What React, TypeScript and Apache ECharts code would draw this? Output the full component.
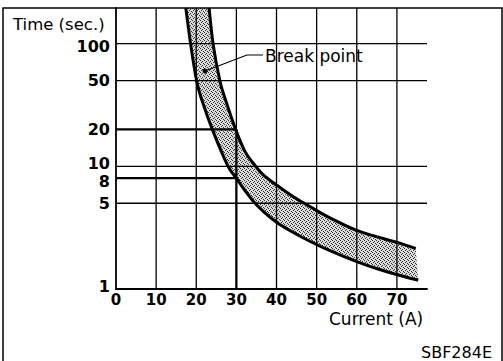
import React, { useEffect, useRef } from "react";
import * as echarts from "echarts";

// Axis ticks
const currentTicks = [0, 10, 20, 30, 40, 50, 60, 70];
const timeTicks = [1, 5, 8, 10, 20, 50, 100];

// Grid lines
const gridCurrents = [10, 20, 30, 40, 50, 60, 70];
const gridTimes = [5, 10, 50, 100];
const refTimes = [20, 8];
const refCurrent = 30;

// Lower (left) boundary curve of the band
const lowerCurrent = [17.4, 18.6, 20.1, 21.4, 24.0, 27.8, 30.0, 31.9, 34.2, 36.7, 40.0, 43.3, 48.3, 53.3, 60.0, 64.9, 70.3, 75.3];
const lowerTime = [195, 99, 49.4, 34.7, 20, 10.2, 8.0, 6.5, 5.2, 4.3, 3.5, 3.0, 2.45, 2.05, 1.67, 1.47, 1.3, 1.18];

// Upper (right) boundary curve of the band
const upperCurrent = [23.2, 24.2, 25.9, 27.3, 29.8, 32.1, 34.2, 36.7, 40.0, 44.2, 48.3, 53.3, 60.0, 64.9, 70.3, 74.7];
const upperTime = [195, 99, 49.4, 34.7, 20, 13.3, 10.6, 8.5, 7.05, 5.65, 4.7, 3.8, 3.0, 2.67, 2.38, 2.14];

const X_MAX = 77.5;
const Y_MIN = 1;
const Y_MAX = 195;
const FONT = "DejaVu Sans";

function catmull(pts: number[][], move: boolean): string {
  let d = (move ? "M" : "L") + pts[0][0] + "," + pts[0][1];
  for (let i = 0; i < pts.length - 1; i++) {
    const p0 = pts[i - 1] || pts[i];
    const p1 = pts[i];
    const p2 = pts[i + 1];
    const p3 = pts[i + 2] || p2;
    const c1x = p1[0] + (p2[0] - p0[0]) / 6;
    const c1y = p1[1] + (p2[1] - p0[1]) / 6;
    const c2x = p2[0] - (p3[0] - p1[0]) / 6;
    const c2y = p2[1] - (p3[1] - p1[1]) / 6;
    d += ` C${c1x},${c1y} ${c2x},${c2y} ${p2[0]},${p2[1]}`;
  }
  return d;
}

function makeStipple(): any {
  try {
    const c = document.createElement("canvas");
    c.width = 4;
    c.height = 4;
    const ctx = c.getContext("2d");
    if (!ctx) return "rgba(0,0,0,0.25)";
    ctx.clearRect(0, 0, 4, 4);
    ctx.fillStyle = "rgba(0,0,0,0.14)";
    ctx.fillRect(0, 0, 4, 4);
    ctx.fillStyle = "rgba(20,20,20,0.85)";
    [[0, 0], [2, 1], [1, 2], [3, 3]].forEach(([x, y]) => ctx.fillRect(x, y, 1, 1));
    return { image: c, repeat: "repeat" };
  } catch (e) {
    return "rgba(0,0,0,0.25)";
  }
}

export default function App() {
  const ref = useRef<HTMLDivElement>(null);
  useEffect(() => {
    if (!ref.current) return;
    const chart = echarts.init(ref.current, null, { renderer: "svg" });
    const stipple = makeStipple();
    const labelRich = {
      n: { fontFamily: FONT, fontSize: 16, fontWeight: "bold", color: "#000" },
      u: { fontFamily: FONT, fontSize: 16, fontWeight: "bold", color: "#000", padding: [0, 0, 6, 0] },
      d: { fontFamily: FONT, fontSize: 16, fontWeight: "bold", color: "#000", padding: [6, 0, 0, 0] },
    };
    const option: any = {
      animation: false,
      backgroundColor: "#fff",
      grid: { left: 116, top: 8, right: 76, bottom: 72, containLabel: false },
      xAxis: {
        type: "value",
        min: 0,
        max: X_MAX,
        axisLine: { show: true, onZero: false, lineStyle: { color: "#000", width: 1.8 } },
        axisTick: { show: false },
        splitLine: { show: false },
        axisLabel: {
          customValues: currentTicks,
          color: "#000",
          fontFamily: FONT,
          fontSize: 15,
          fontWeight: "bold",
          margin: 3,
        },
      },
      yAxis: {
        type: "log",
        logBase: 10,
        min: Y_MIN,
        max: Y_MAX,
        axisLine: { show: true, onZero: false, lineStyle: { color: "#000", width: 1.8 } },
        axisTick: { show: false },
        splitLine: { show: false },
        minorSplitLine: { show: false },
        axisLabel: {
          customValues: timeTicks,
          margin: 6,
          formatter: (v: number) => {
            if (v === 10 || v === 1) return "{u|" + v + "}";
            if (v === 8 || v === 100) return "{d|" + v + "}";
            return "{n|" + v + "}";
          },
          rich: labelRich,
        },
      },
      series: [
        {
          type: "custom",
          name: "grid",
          z: 1,
          clip: true,
          data: [[0, 1]],
          renderItem: (_p: any, api: any) => {
            const children: any[] = [];
            gridCurrents.forEach((c) => {
              const a = api.coord([c, Y_MIN]);
              const b = api.coord([c, Y_MAX]);
              children.push({ type: "line", shape: { x1: a[0], y1: a[1], x2: b[0], y2: b[1] }, style: { stroke: "#000", lineWidth: 1.3 } });
            });
            gridTimes.forEach((t) => {
              const a = api.coord([0, t]);
              const b = api.coord([X_MAX, t]);
              children.push({ type: "line", shape: { x1: a[0], y1: a[1], x2: b[0], y2: b[1] }, style: { stroke: "#000", lineWidth: 1.3 } });
            });
            refTimes.forEach((t) => {
              const a = api.coord([0, t]);
              const b = api.coord([refCurrent, t]);
              children.push({ type: "line", shape: { x1: a[0], y1: a[1], x2: b[0], y2: b[1] }, style: { stroke: "#000", lineWidth: 2.2 } });
            });
            {
              const a = api.coord([refCurrent, Y_MIN]);
              const b = api.coord([refCurrent, refTimes[0]]);
              children.push({ type: "line", shape: { x1: a[0], y1: a[1], x2: b[0], y2: b[1] }, style: { stroke: "#000", lineWidth: 2.2 } });
            }
            return { type: "group", children };
          },
        },
        {
          type: "custom",
          name: "band",
          z: 3,
          clip: true,
          data: [[0, 1]],
          renderItem: (_p: any, api: any) => {
            const up = upperCurrent.map((c, i) => api.coord([c, upperTime[i]]));
            const lo = lowerCurrent.map((c, i) => api.coord([c, lowerTime[i]]));
            const loRev = lo.slice().reverse();
            const fillD = catmull(up, true) + " " + catmull(loRev, false) + " Z";
            return {
              type: "group",
              children: [
                { type: "path", shape: { pathData: fillD }, style: { fill: stipple, stroke: "none" } },
                { type: "path", shape: { pathData: catmull(up, true) }, style: { fill: "none", stroke: "#000", lineWidth: 3 } },
                { type: "path", shape: { pathData: catmull(lo, true) }, style: { fill: "none", stroke: "#000", lineWidth: 3 } },
              ],
            };
          },
        },
      ],
      graphic: [
        { type: "rect", shape: { x: 3, y: 8, width: 499, height: 360 }, style: { fill: "none", stroke: "#000", lineWidth: 1.5 }, z: 10 },
        { type: "text", left: 13, top: 16, style: { text: "Time (sec.)", font: `16.5px '${FONT}'`, fill: "#000" } },
        { type: "text", left: 329, top: 310, style: { text: "Current (A)", font: `17px '${FONT}'`, fill: "#000" } },
        { type: "text", left: 421, top: 344, style: { text: "SBF284E", font: `16px '${FONT}'`, fill: "#000" } },
        { type: "text", left: 265, top: 47, style: { text: "Break point", font: `17px '${FONT}'`, fill: "#000" } },
        { type: "polyline", shape: { points: [[205, 71], [247, 55], [263, 55]] }, style: { fill: "none", stroke: "#000", lineWidth: 1.2 }, z: 10 },
        { type: "circle", shape: { cx: 205, cy: 71, r: 2.5 }, style: { fill: "#000" }, z: 10 },
      ],
    };
    chart.setOption(option);
    return () => chart.dispose();
  }, []);
  return <div ref={ref} style={{ position: "fixed", left: 0, top: 0, width: 503, height: 361, background: "#fff" }} />;
}
